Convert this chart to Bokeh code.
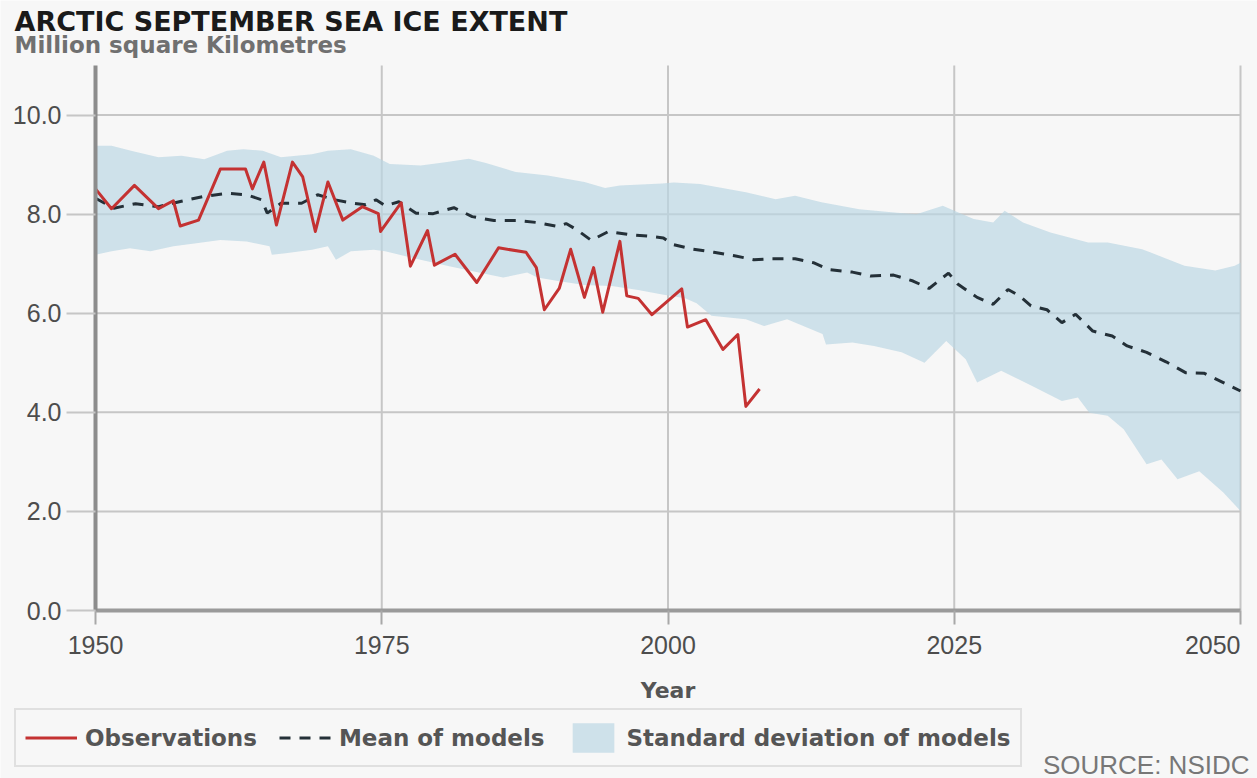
from bokeh.plotting import figure
from bokeh.models import FixedTicker, PrintfTickFormatter, Label, Legend, LegendItem, Range1d
from bokeh.embed import file_html
from bokeh.resources import INLINE

TITLE = "ARCTIC SEPTEMBER SEA ICE EXTENT"
SUBTITLE = "Million square Kilometres"
X_LABEL = "Year"
SOURCE = "SOURCE: NSIDC"
LEGEND_LABELS = ["Observations", "Mean of models", "Standard deviation of models"]

x_ticks = [1950, 1975, 2000, 2025, 2050]
x_tick_labels = ["1950", "1975", "2000", "2025", "2050"]
y_ticks = [0, 2, 4, 6, 8, 10]
Y_TOP = 11.0

obs_years = [1950.0, 1951.4, 1953.4, 1955.5, 1956.8, 1957.4, 1959.0, 1960.9, 1963.1, 1963.7,
             1964.7, 1965.8, 1967.2, 1968.1, 1969.2, 1970.3, 1971.6, 1973.3, 1974.7, 1974.9,
             1976.7, 1977.5, 1979.0, 1979.6, 1981.4, 1983.3, 1985.2, 1987.6, 1988.5, 1989.2,
             1990.5, 1991.5, 1992.7, 1993.5, 1994.3, 1995.8, 1996.4, 1997.4, 1998.6, 2001.2,
             2001.7, 2003.3, 2004.8, 2006.1, 2006.8, 2008.0]
obs_values = [8.51, 8.11, 8.58, 8.11, 8.27, 7.76, 7.88, 8.91, 8.91, 8.51,
              9.05, 7.78, 9.05, 8.75, 7.65, 8.65, 7.88, 8.15, 8.01, 7.65,
              8.23, 6.95, 7.67, 6.97, 7.19, 6.62, 7.32, 7.23, 6.92, 6.07,
              6.50, 7.29, 6.32, 6.92, 6.02, 7.45, 6.35, 6.30, 5.97, 6.49,
              5.72, 5.87, 5.27, 5.57, 4.12, 4.47]

mean_years = [1950.0, 1951.6, 1953.5, 1955.5, 1957.5, 1959.5, 1961.5, 1963.2, 1964.5, 1965.0,
              1966.2, 1968.0, 1969.4, 1970.9, 1972.5, 1973.6, 1974.5, 1975.3, 1976.5, 1978.0,
              1979.5, 1981.3, 1982.9, 1984.8, 1986.9, 1988.6, 1990.4, 1991.1, 1992.0, 1993.3,
              1994.8, 1996.5, 1998.5, 1999.6, 2000.4, 2002.0, 2004.0, 2005.8, 2007.5, 2009.1,
              2011.1, 2012.7, 2014.1, 2016.1, 2017.7, 2019.7, 2021.4, 2022.8, 2024.0, 2024.5,
              2025.3, 2027.0, 2028.4, 2029.7, 2030.7, 2031.7, 2033.1, 2034.4, 2035.6, 2037.1,
              2038.8, 2040.1, 2041.8, 2043.5, 2045.2, 2046.8, 2048.5, 2050.0]
mean_values = [8.32, 8.12, 8.21, 8.15, 8.26, 8.36, 8.42, 8.39, 8.29, 8.02,
               8.22, 8.22, 8.39, 8.29, 8.22, 8.19, 8.29, 8.17, 8.25, 8.02,
               8.01, 8.13, 7.95, 7.87, 7.87, 7.83, 7.75, 7.81, 7.69, 7.47,
               7.65, 7.59, 7.55, 7.52, 7.39, 7.30, 7.23, 7.16, 7.08, 7.10,
               7.10, 7.02, 6.88, 6.83, 6.75, 6.77, 6.65, 6.50, 6.72, 6.81,
               6.59, 6.32, 6.18, 6.48, 6.35, 6.15, 6.07, 5.81, 5.98, 5.64,
               5.54, 5.34, 5.21, 5.02, 4.80, 4.79, 4.60, 4.43]

band_upper_years = [1950.0, 1951.4, 1953.1, 1955.5, 1957.5, 1959.5, 1961.5, 1962.9, 1964.6, 1966.2,
                    1968.9, 1970.3, 1972.3, 1974.3, 1975.7, 1978.4, 1980.7, 1982.6, 1984.1, 1986.7,
                    1989.5, 1992.7, 1994.5, 1995.8, 1999.5, 2000.5, 2002.8, 2006.8, 2009.4, 2011.1,
                    2013.4, 2016.7, 2020.0, 2021.7, 2024.0, 2025.0, 2026.7, 2028.4, 2029.4, 2031.0,
                    2033.4, 2036.7, 2038.4, 2041.4, 2042.1, 2045.1, 2047.8, 2049.5, 2050.0]
band_upper = [9.38, 9.38, 9.28, 9.15, 9.18, 9.11, 9.28, 9.31, 9.28, 9.15,
              9.21, 9.28, 9.31, 9.18, 9.01, 8.98, 9.05, 9.12, 9.03, 8.85,
              8.78, 8.65, 8.53, 8.58, 8.62, 8.64, 8.61, 8.44, 8.30, 8.37,
              8.24, 8.10, 8.03, 8.00, 8.17, 8.07, 7.90, 7.83, 8.07, 7.83,
              7.63, 7.43, 7.43, 7.29, 7.23, 6.96, 6.86, 6.96, 7.02]

band_lower_years = [1950.0, 1951.4, 1953.0, 1954.8, 1956.8, 1958.8, 1960.9, 1963.2, 1965.2, 1965.4,
                    1966.6, 1968.9, 1970.3, 1971.0, 1972.3, 1974.3, 1975.3, 1978.0, 1980.9, 1983.9,
                    1985.6, 1987.7, 1988.6, 1990.4, 1992.7, 1995.1, 1997.4, 1999.5, 2001.5, 2002.5,
                    2003.8, 2006.8, 2008.4, 2010.4, 2013.5, 2013.8, 2016.1, 2018.0, 2020.4, 2022.4,
                    2024.3, 2026.0, 2027.0, 2029.1, 2031.8, 2034.4, 2035.8, 2036.8, 2038.4, 2039.8,
                    2041.8, 2043.1, 2044.5, 2046.4, 2048.5, 2050.0]
band_lower = [7.18, 7.25, 7.31, 7.25, 7.35, 7.41, 7.48, 7.45, 7.35, 7.18,
              7.21, 7.28, 7.35, 7.08, 7.25, 7.28, 7.25, 7.10, 6.95, 6.80,
              6.72, 6.82, 6.72, 6.65, 6.57, 6.55, 6.47, 6.38, 6.30, 6.20,
              5.95, 5.88, 5.74, 5.88, 5.58, 5.37, 5.41, 5.34, 5.21, 5.00,
              5.44, 5.07, 4.60, 4.84, 4.53, 4.23, 4.30, 3.99, 3.93, 3.66,
              2.95, 3.05, 2.65, 2.81, 2.38, 2.01]

# ---- layout (pixels) ----
W, H = 1257, 778
PLOT_L, PLOT_R, PLOT_T, PLOT_B = 95, 1240, 65, 610   # pixel box of the data area
x0, x1 = x_ticks[0], x_ticks[-1]
ppx = (PLOT_R - PLOT_L) / (x1 - x0)
ppy = (PLOT_B - PLOT_T) / (Y_TOP - 0)
x_range = Range1d(x0 - PLOT_L / ppx, x1 + (W - PLOT_R) / ppx)
y_range = Range1d(0 - (H - PLOT_B) / ppy, Y_TOP + PLOT_T / ppy)

BG = "#f7f7f7"
GRID = "#c6c6c6"
TEXT = "#4d4d4d"

p = figure(width=W, height=H, x_range=x_range, y_range=y_range,
           output_backend="svg", toolbar_location=None, min_border=0,
           background_fill_color=BG, border_fill_color=BG, outline_line_color=None)
p.grid.visible = False

# grid lines from the tick arrays
p.segment(x0=x_ticks[1:], y0=[0] * (len(x_ticks) - 1), x1=x_ticks[1:], y1=[Y_TOP] * (len(x_ticks) - 1),
          line_color=GRID, line_width=2)
p.segment(x0=[x0] * (len(y_ticks) - 1), y0=y_ticks[1:], x1=[x1] * (len(y_ticks) - 1), y1=y_ticks[1:],
          line_color=GRID, line_width=2)

band_r = p.patch(x=band_upper_years + band_lower_years[::-1],
                 y=band_upper + band_lower[::-1],
                 fill_color="#b9d6e3", fill_alpha=0.68, line_color=None)
mean_r = p.line(mean_years, mean_values, line_color="#243038", line_width=3, line_dash="11 9")
obs_r = p.line(obs_years, obs_values, line_color="#c43232", line_width=3, line_join="round")

# axes drawn at the data origin
xaxis = p.xaxis[0]
xaxis.fixed_location = 0
xaxis.bounds = (x0, x1)
xaxis.ticker = FixedTicker(ticks=x_ticks)
xaxis.major_label_overrides = {t: "" for t in x_ticks}
xaxis.axis_line_color = "#9a9a9a"
xaxis.axis_line_width = 4
xaxis.major_tick_out = 14
xaxis.major_tick_in = 0
xaxis.major_tick_line_color = "#a8a8a8"
xaxis.major_tick_line_width = 2
xaxis.minor_tick_line_color = None

yaxis = p.yaxis[0]
yaxis.fixed_location = x0
yaxis.bounds = (0, Y_TOP)
yaxis.ticker = FixedTicker(ticks=y_ticks)
yaxis.formatter = PrintfTickFormatter(format="%.1f")
yaxis.axis_line_color = "#8c8c8c"
yaxis.axis_line_width = 4
yaxis.major_tick_out = 29
yaxis.major_tick_in = 0
yaxis.major_tick_line_color = GRID
yaxis.major_tick_line_width = 2
yaxis.minor_tick_line_color = None
yaxis.major_label_standoff = 5
yaxis.major_label_text_font = "Liberation Sans"
yaxis.major_label_text_font_size = "25px"
yaxis.major_label_text_color = TEXT

# x tick labels (last one kept inside the chart edge)
for i, (t, lab) in enumerate(zip(x_ticks, x_tick_labels)):
    align = "right" if i == len(x_ticks) - 1 else "center"
    p.add_layout(Label(x=t, y=0, text=lab, text_align=align, text_baseline="middle",
                       y_offset=-34, text_font="Liberation Sans", text_font_size="25px",
                       text_color=TEXT))

p.add_layout(Label(x=2000, y=0, text=X_LABEL, text_align="center", text_baseline="middle",
                   y_offset=-80, text_font="DejaVu Sans", text_font_style="bold",
                   text_font_size="22px", text_color="#555555"))

p.add_layout(Label(x=x0, y=Y_TOP, text=TITLE, text_align="left", text_baseline="middle",
                   x_offset=-81, y_offset=44, text_font="DejaVu Sans", text_font_style="bold",
                   text_font_size="27px", text_color="#1a1a1a"))
p.add_layout(Label(x=x0, y=Y_TOP, text=SUBTITLE, text_align="left", text_baseline="middle",
                   x_offset=-81, y_offset=21, text_font="DejaVu Sans", text_font_style="bold",
                   text_font_size="23px", text_color="#707070"))

p.add_layout(Label(x=x1, y=0, text=SOURCE, text_align="right", text_baseline="middle",
                   x_offset=9, y_offset=-154, text_font="Liberation Sans",
                   text_font_size="26px", text_color="#777777"))

legend = Legend(items=[LegendItem(label=LEGEND_LABELS[0], renderers=[obs_r]),
                       LegendItem(label=LEGEND_LABELS[1], renderers=[mean_r]),
                       LegendItem(label=LEGEND_LABELS[2], renderers=[band_r])],
                orientation="horizontal", location=(14, 11),
                glyph_width=52, glyph_height=37, padding=9, spacing=22, label_standoff=8,
                label_text_font="DejaVu Sans", label_text_font_style="bold",
                label_text_font_size="23px", label_text_color="#555555",
                border_line_color="#c9c9c9", border_line_width=2,
                background_fill_color=BG, background_fill_alpha=1.0, margin=0)
p.add_layout(legend)

open("out.html", "w").write(file_html(p, INLINE))
